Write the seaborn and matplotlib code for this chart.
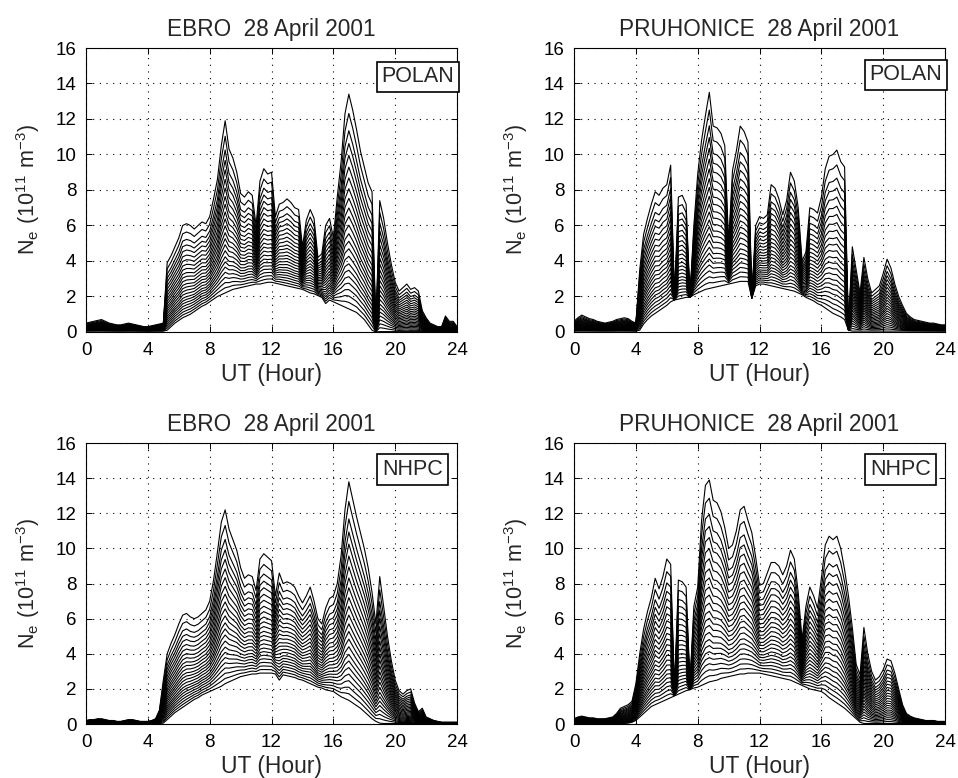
import numpy as np
import pandas as pd
import matplotlib
matplotlib.use("Agg")
import matplotlib.pyplot as plt
import seaborn as sns

sns.set_style("ticks")
plt.rcParams["font.family"] = ["Liberation Sans", "DejaVu Sans"]
plt.rcParams["mathtext.default"] = "regular"

# ---------------------------------------------------------------
# DATA  (UT hours on a 15-min grid, Ne in 1e11 m^-3)
# ---------------------------------------------------------------
hours = np.arange(0, 24.01, 0.25)

# upper envelope (peak density) for each panel
top_ebro_polan = [
    0.5, 0.55, 0.6, 0.65, 0.7, 0.6, 0.5, 0.45, 0.4, 0.4, 0.45, 0.5,
    0.45, 0.4, 0.35, 0.3, 0.3, 0.35, 0.4, 0.45, 0.5, 3.9, 4.3, 4.8,
    5.3, 6.0, 6.1, 6.0, 5.8, 6.0, 6.2, 6.1, 6.5, 7.5, 8.6, 10.5,
    11.9, 10.3, 9.8, 9.0, 7.8, 7.6, 7.9, 7.7, 6.0, 8.5, 9.2, 8.9,
    9.0, 6.5, 7.2, 7.3, 7.5, 7.3, 7.0, 6.9, 4.8, 6.3, 6.9, 6.4,
    4.2, 4.4, 6.0, 6.4, 5.3, 7.6, 9.6, 12.3, 13.4, 12.5, 11.4, 10.2,
    9.3, 8.4, 7.9, 0.4, 7.4, 6.4, 5.0, 3.8, 2.8, 2.3, 2.5, 2.7,
    2.4, 2.5, 2.3, 1.2, 0.8, 0.5, 0.4, 0.3, 0.3, 0.9, 0.6, 0.6,
    0.3,
]
top_pruh_polan = [
    0.6, 0.8, 0.95, 0.85, 0.75, 0.7, 0.6, 0.55, 0.5, 0.55, 0.6, 0.7,
    0.75, 0.8, 0.75, 0.6, 0.5, 3.5, 5.5, 6.4, 7.2, 7.9, 7.7, 8.1,
    8.3, 9.4, 2.0, 7.6, 7.7, 7.2, 2.0, 6.0, 8.9, 10.8, 12.2, 13.5,
    11.6, 11.5, 11.2, 10.5, 5.0, 9.1, 10.2, 11.6, 11.3, 10.7, 2.0, 6.0,
    6.5, 6.4, 6.6, 8.3, 8.1, 7.5, 6.6, 7.4, 9.0, 8.5, 7.0, 4.0,
    4.5, 7.0, 6.9, 6.7, 7.6, 9.2, 9.9, 10.0, 10.25, 9.6, 9.3, 0.3,
    4.8, 3.5, 2.2, 4.2, 3.0, 2.2, 2.4, 2.6, 3.3, 4.1, 3.6, 2.7,
    2.0, 1.5, 1.05, 0.85, 0.7, 0.65, 0.6, 0.55, 0.5, 0.5, 0.45, 0.4,
    0.4,
]
top_ebro_nhpc = [
    0.2, 0.25, 0.25, 0.3, 0.3, 0.25, 0.2, 0.2, 0.15, 0.15, 0.2, 0.25,
    0.25, 0.2, 0.15, 0.15, 0.15, 0.2, 0.3, 0.8, 2.5, 4.0, 4.6, 5.1,
    5.7, 6.2, 6.3, 6.1, 6.0, 6.1, 6.3, 6.5, 7.0, 8.2, 9.8, 11.5,
    12.2, 11.1, 10.5, 9.9, 8.9, 8.3, 8.5, 8.4, 7.6, 9.4, 9.7, 9.5,
    9.3, 7.3, 8.6, 8.0, 8.1, 8.0, 7.8, 7.3, 6.9, 7.3, 7.8, 7.0,
    6.0, 5.7, 6.6, 7.15, 7.3, 8.0, 9.6, 12.2, 13.8, 12.8, 11.8, 10.9,
    10.0, 8.9, 7.5, 5.7, 8.4, 6.7, 5.0, 3.6, 2.5, 1.9, 1.7, 1.9,
    2.0, 1.2, 0.7, 0.9, 0.4, 0.3, 0.2, 0.15, 0.1, 0.1, 0.1, 0.1,
    0.1,
]
top_pruh_nhpc = [
    0.3, 0.4, 0.45, 0.4, 0.35, 0.35, 0.3, 0.3, 0.3, 0.35, 0.4, 0.6,
    0.9, 1.0, 1.1, 1.3, 2.3, 4.0, 5.4, 6.4, 7.2, 8.3, 7.7, 8.4,
    9.4, 9.1, 2.0, 8.2, 8.1, 7.8, 2.3, 6.7, 7.8, 11.6, 13.6, 13.9,
    12.75, 12.6, 12.1, 11.2, 10.0, 10.2, 11.0, 12.2, 12.4, 11.6, 10.9, 9.5,
    7.9, 8.0, 8.6, 9.2, 9.2, 9.0, 8.5, 9.0, 9.9, 9.4, 7.5, 4.8,
    6.7, 7.8, 7.3, 6.6, 8.3, 10.2, 10.7, 10.5, 10.7, 10.0, 8.8, 7.3,
    5.5, 3.4, 2.8, 5.5, 4.0, 3.0, 2.5, 2.7, 3.1, 3.7, 3.6, 2.9,
    2.0, 1.1, 0.6, 0.45, 0.35, 0.3, 0.25, 0.2, 0.2, 0.2, 0.15, 0.15,
    0.15,
]

# lower envelope (lowest plotted height) for each panel
bot_ebro_polan = [0.05] * 21 + [
    0.1, 0.3, 0.5, 0.65, 0.8, 0.9, 1.0, 1.15, 1.3, 1.45, 1.55, 1.7,
    1.85, 2.0, 2.1, 2.2, 2.3, 2.4, 2.45, 2.5, 2.55, 2.6, 2.65, 2.7,
    2.7, 2.75, 2.8, 2.8, 2.75, 2.7, 2.65, 2.6, 2.55, 2.5, 2.45, 2.4,
    2.3, 2.2, 2.15, 2.05, 1.95, 1.6, 1.8, 1.7, 1.6, 1.5, 1.4, 1.3,
    1.2, 1.1, 0.9, 0.7, 0.4, 0.1, 0.0,
] + [0.02] * 21
bot_pruh_polan = [0.05] * 17 + [
    0.1, 0.45, 0.7, 0.9, 1.05, 1.2, 1.35, 1.5, 1.7, 1.8, 1.85, 1.9,
    1.95, 1.95, 2.1, 2.2, 2.3, 2.4, 2.45, 2.5, 2.55, 2.6, 2.65, 2.7,
    2.75, 2.8, 2.85, 2.85, 2.85, 1.9, 2.6, 2.7, 2.7, 2.65, 2.6, 2.55,
    2.5, 2.45, 2.4, 2.35, 2.3, 2.2, 2.1, 1.95, 1.85, 1.75, 1.6, 1.5,
    1.35, 1.2, 1.05, 0.95, 0.85, 0.7, 0.1,
] + [0.05] * 25
bot_ebro_nhpc = [0.03] * 20 + [
    0.05, 0.25, 0.45, 0.65, 0.8, 0.95, 1.1, 1.25, 1.4, 1.5, 1.65, 1.75,
    1.85, 1.95, 2.05, 2.15, 2.3, 2.4, 2.5, 2.6, 2.7, 2.75, 2.8, 2.85,
    2.85, 2.9, 2.9, 2.9, 2.9, 2.85, 2.5, 2.8, 2.75, 2.7, 2.65, 2.55,
    2.5, 2.4, 2.3, 2.2, 2.1, 2.05, 1.95, 1.9, 1.85, 1.7, 1.55, 1.45,
    1.35, 1.2, 1.05, 0.9, 0.7, 0.5, 0.3, 0.15, 0.05,
] + [0.03] * 20
bot_pruh_nhpc = [0.03] * 14 + [
    0.05, 0.1, 0.2, 0.4, 0.6, 0.8, 1.0, 1.1, 1.2, 1.3, 1.4, 1.5,
    1.6, 1.7, 1.8, 1.9, 1.95, 2.05, 2.1, 2.2, 2.3, 2.4, 2.45, 2.5,
    2.6, 2.65, 2.7, 2.75, 2.8, 2.85, 2.85, 2.9, 2.9, 2.9, 2.9, 2.85,
    2.8, 2.75, 2.7, 2.65, 2.6, 2.55, 2.5, 2.4, 2.3, 2.2, 2.1, 2.0,
    1.95, 1.9, 1.85, 1.7, 1.5, 1.35, 1.2, 1.05, 0.9, 0.7, 0.5, 0.3,
    0.1,
] + [0.03] * 22

# relative position of each height profile between lower and upper envelope
levels = [0.00, 0.03, 0.06, 0.09, 0.12, 0.15, 0.18, 0.21, 0.245, 0.28,
          0.315, 0.35, 0.39, 0.43, 0.47, 0.515, 0.56, 0.61, 0.66, 0.715,
          0.77, 0.83, 0.91, 1.00]

titles = ["EBRO  28 April 2001", "PRUHONICE  28 April 2001",
          "EBRO  28 April 2001", "PRUHONICE  28 April 2001"]
models = ["POLAN", "POLAN", "NHPC", "NHPC"]
tops = [top_ebro_polan, top_pruh_polan, top_ebro_nhpc, top_pruh_nhpc]
bots = [bot_ebro_polan, bot_pruh_polan, bot_ebro_nhpc, bot_pruh_nhpc]

x_ticks = [0, 4, 8, 12, 16, 20, 24]
y_ticks = [0, 2, 4, 6, 8, 10, 12, 14, 16]


def profile_frame(top, bot):
    top = np.asarray(top)
    bot = np.asarray(bot)
    rows = []
    for k, f in enumerate(levels):
        ne = bot + (top - bot) * f
        rows.append(pd.DataFrame({"UT": hours, "Ne": ne, "level": k}))
    return pd.concat(rows, ignore_index=True)


# ---------------------------------------------------------------
# PLOT
# ---------------------------------------------------------------
fig = plt.figure(figsize=(9.58, 7.78), dpi=100)
positions = [
    [0.0898, 0.5733, 0.3873, 0.365],
    [0.5992, 0.5733, 0.3873, 0.365],
    [0.0898, 0.0694, 0.3873, 0.361],
    [0.5992, 0.0694, 0.3873, 0.361],
]
label_xy = [(0.895, 0.898), (0.895, 0.905), (0.88, 0.907), (0.88, 0.907)]

for i in range(4):
    ax = fig.add_axes(positions[i])
    df = profile_frame(tops[i], bots[i])
    sns.lineplot(data=df, x="UT", y="Ne", units="level", estimator=None,
                 color="black", lw=0.8, ax=ax, legend=False)

    ax.set_xlim(0, 24)
    ax.set_ylim(0, 16)
    ax.set_xticks(x_ticks)
    ax.set_yticks(y_ticks)
    ax.grid(True, color="black", linestyle=(0, (1, 5)), linewidth=0.8)
    ax.tick_params(direction="in", length=4, width=0.7, top=True, right=True,
                   labelsize=13.5, pad=7, colors="black")
    for sp in ax.spines.values():
        sp.set_color("black")
        sp.set_linewidth(0.8)

    ax.set_title(titles[i], fontsize=16.3, pad=9)
    ax.set_xlabel("UT (Hour)", fontsize=16.5, labelpad=3)
    ax.set_ylabel(r"$N_e\ (10^{11}\ m^{-3})$", fontsize=15.5, labelpad=10)

    ax.text(label_xy[i][0], label_xy[i][1], models[i], transform=ax.transAxes,
            ha="center", va="center", fontsize=15.5, zorder=5,
            bbox=dict(boxstyle="square,pad=0.22", fc="white", ec="black", lw=1.2))

fig.savefig("out.png", dpi=100)
